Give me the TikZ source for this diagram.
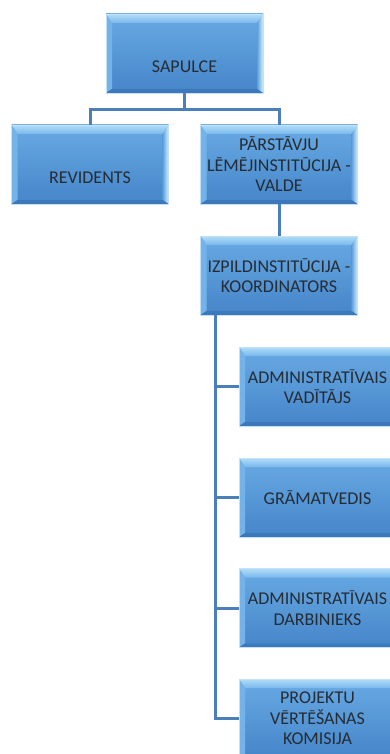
\documentclass[tikz,border=0pt]{standalone}
\usepackage{fontspec}
\setmainfont{Carlito}
\definecolor{mainT}{HTML}{68AAE4}
\definecolor{mainB}{HTML}{4585C9}
\definecolor{topA}{HTML}{B2DDF8}
\definecolor{topB}{HTML}{78B8EC}
\definecolor{leftC}{HTML}{74B3E9}
\definecolor{rightA}{HTML}{5E9EDB}
\definecolor{rightB}{HTML}{D2F0FD}
\definecolor{botC}{HTML}{3C78BA}
\definecolor{edgeC}{HTML}{C4E2F7}
\definecolor{lineC}{HTML}{4A7FBA}
\definecolor{txtC}{HTML}{262C33}
\tikzset{
  bevbox/.style={minimum width=157pt, minimum height=79pt, inner sep=0pt,
    text=txtC, align=center, font=\fontsize{18}{20.5}\selectfont,
    draw=edgeC, line width=0.8pt,
    path picture={
      \coordinate (nw) at (path picture bounding box.north west);
      \coordinate (ne) at (path picture bounding box.north east);
      \coordinate (sw) at (path picture bounding box.south west);
      \coordinate (se) at (path picture bounding box.south east);
      \shade[top color=mainT,bottom color=mainB] (nw) rectangle (se);
      \shade[top color=topA,bottom color=topB] (nw) -- (ne) -- ([xshift=-6pt,yshift=-9pt]ne) -- ([xshift=6pt,yshift=-9pt]nw) -- cycle;
      \fill[leftC] (nw) -- ([xshift=6pt,yshift=-9pt]nw) -- ([xshift=6pt,yshift=4pt]sw) -- (sw) -- cycle;
      \shade[left color=rightA,right color=rightB] (ne) -- ([xshift=-6pt,yshift=-9pt]ne) -- ([xshift=-6pt,yshift=4pt]se) -- (se) -- cycle;
      \fill[botC] (sw) -- ([xshift=6pt,yshift=4pt]sw) -- ([xshift=-6pt,yshift=4pt]se) -- (se) -- cycle;
    }},
  conn/.style={draw=lineC, line width=3pt}
}
\begin{document}
\begin{tikzpicture}[x=1pt,y=-1pt]
\useasboundingbox (0,0) rectangle (390,754);
\clip (0,0) rectangle (390,754);
\node[bevbox] (sap) at (184.5,53.5) {\raisebox{-13.5pt}[\height][\depth]{SAPULCE}};
\node[bevbox] (rev) at (90,164.5) {\raisebox{-13.5pt}[\height][\depth]{REVIDENTS}};
\node[bevbox] (par) at (279,164.5) {PĀRSTĀVJU\\LĒMĒJINSTITŪCIJA -\\VALDE};
\node[bevbox] (izp) at (279,275.5) {IZPILDINSTITŪCIJA -\\KOORDINATORS};
\node[bevbox] (adv) at (317.5,386.5) {ADMINISTRATĪVAIS\\VADĪTĀJS};
\node[bevbox] (gra) at (317.5,497.5) {GRĀMATVEDIS};
\node[bevbox] (add) at (317.5,608) {ADMINISTRATĪVAIS\\DARBINIEKS};
\node[bevbox] (pro) at (317.5,718.5) {PROJEKTU\\VĒRTĒŠANAS\\KOMISIJA};
\coordinate (trunk) at ([xshift=15pt]izp.south west);
\draw[conn] (sap.south) -- ++(0,16) -| (rev.north);
\draw[conn] (sap.south) -- ++(0,16) -| (par.north);
\draw[conn] (par.south) -- (izp.north);
\draw[conn] (trunk) |- (adv.west);
\draw[conn] (trunk) |- (gra.west);
\draw[conn] (trunk) |- (add.west);
\draw[conn] (trunk) |- (pro.west);
\end{tikzpicture}
\end{document}
